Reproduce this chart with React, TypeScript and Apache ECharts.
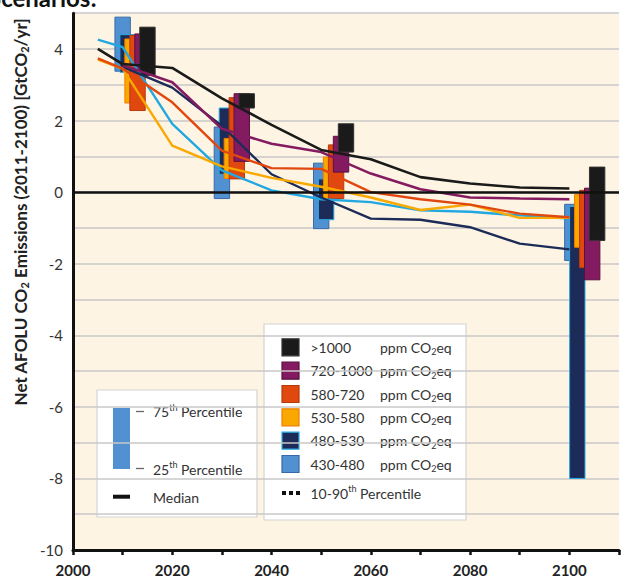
import React, { useEffect, useRef } from "react";
import * as echarts from "echarts";

// ---- data ----
const categories = ["430-480", "480-530", "530-580", "580-720", "720-1000", ">1000"];
const boxGroupYears = [2010, 2030, 2050, 2100.6];

// interquartile boxes [low, high] per group year
const box430 = [[3.38, 4.89], [-0.18, 1.82], [-1.02, 0.81], [-1.91, -0.34]];
const box480 = [[3.35, 4.4], [0.5, 2.35], [-0.77, 0.37], [-8.0, -0.4]];
const box530 = [[2.49, 4.28], [0.38, 1.5], [-0.18, 0.98], [-1.54, -0.07]];
const box580 = [[2.28, 4.38], [0.37, 2.64], [-0.18, 1.32], [-2.11, 0.05]];
const box720 = [[3.35, 4.42], [0.86, 2.75], [0.56, 1.56], [-2.45, 0.11]];
const box1000 = [[3.26, 4.61], [2.35, 2.75], [1.12, 1.91], [-1.35, 0.7]];

// median trajectories [year, value]
const line430 = [[2005, 4.26], [2010, 4.05], [2020, 1.91], [2030, 0.61], [2040, 0.05], [2050, -0.2], [2060, -0.28], [2070, -0.51], [2080, -0.55], [2090, -0.65], [2100, -0.74]];
const line480 = [[2010, 3.5], [2020, 2.92], [2030, 1.85], [2040, 0.5], [2050, -0.15], [2060, -0.74], [2070, -0.77], [2080, -0.98], [2090, -1.44], [2100, -1.6]];
const line530 = [[2005, 3.7], [2010, 3.45], [2020, 1.3], [2030, 0.72], [2040, 0.4], [2050, 0.15], [2060, -0.15], [2070, -0.5], [2080, -0.35], [2090, -0.72], [2100, -0.72]];
const line580 = [[2005, 3.74], [2010, 3.45], [2020, 2.51], [2030, 1.16], [2040, 0.67], [2050, 0.65], [2060, 0.0], [2070, -0.2], [2080, -0.35], [2090, -0.6], [2100, -0.7]];
const line720 = [[2010, 3.55], [2020, 3.07], [2030, 1.77], [2040, 1.35], [2050, 1.12], [2060, 0.52], [2070, 0.08], [2080, -0.15], [2090, -0.18], [2100, -0.2]];
const line1000 = [[2005, 4.0], [2010, 3.58], [2020, 3.47], [2030, 2.62], [2040, 1.88], [2050, 1.18], [2060, 0.92], [2070, 0.42], [2080, 0.24], [2090, 0.13], [2100, 0.1]];

const xTickLabels = [2000, 2020, 2040, 2060, 2080, 2100];
const yTickLabels = [4, 2, 0, -2, -4, -6, -8, -10];

// ---- styles ----
const FONT = "Lato";
const boxFill = ["#5191d1", "#1c2b57", "#f9a800", "#e0480f", "#841b60", "#1a1a1a"];
const boxStroke = ["#3a6aa6", "#2aaae2", "#f07f00", "#b83a0a", "#5a0f40", "#333333"];
const lineColor = ["#22a8e0", "#1c2b57", "#f9a800", "#e0480f", "#841b60", "#1a1a1a"];
const lineWidth = [2.4, 2.4, 2.4, 2.4, 2.5, 2.6];
const boxes = [box430, box480, box530, box580, box720, box1000];
const lines = [line430, line480, line530, line580, line720, line1000];
const BOX_W = 3.1;

export default function App() {
  const ref = useRef<HTMLDivElement>(null);
  useEffect(() => {
    if (!ref.current) return;
    const chart = echarts.init(ref.current, null, { renderer: "svg" });

    const boxSeries = categories.map((c, i) => ({
      type: "custom",
      name: c + " box",
      z: 2,
      data: boxes[i].map((b, g) => [boxGroupYears[g] + i, b[0], b[1]]),
      encode: { x: 0, y: [1, 2] },
      renderItem: (params: any, api: any) => {
        const x = api.value(0);
        const lo = api.value(1);
        const hi = api.value(2);
        const p1 = api.coord([x, hi]);
        const p2 = api.coord([x, lo]);
        const w = api.size([BOX_W, 0])[0];
        return {
          type: "rect",
          shape: { x: p1[0] - w / 2, y: p1[1], width: w, height: p2[1] - p1[1] },
          style: { fill: boxFill[i], stroke: boxStroke[i], lineWidth: 1 },
        };
      },
    }));

    const lineSeries = categories.map((c, i) => ({
      type: "line",
      name: c,
      z: 4,
      data: lines[i],
      symbol: "none",
      lineStyle: { color: lineColor[i], width: lineWidth[i] },
    }));

    const zeroSeries = {
      type: "line",
      z: 3,
      data: [],
      markLine: {
        silent: true,
        symbol: "none",
        label: { show: false },
        lineStyle: { color: "#111", width: 2.6, type: "solid" },
        data: [{ yAxis: 0 }],
      },
    };

    const rich = {
      n: { fontFamily: FONT, fontSize: 14, lineHeight: 18, fill: "#333", color: "#333" },
      sub: { fontFamily: FONT, fontSize: 9, lineHeight: 9, verticalAlign: "bottom", fill: "#333", color: "#333" },
      sup: { fontFamily: FONT, fontSize: 9, lineHeight: 9, verticalAlign: "top", fill: "#333", color: "#333" },
    };
    const richBold = {
      n: { fontFamily: FONT, fontSize: 17, fontWeight: "bold", lineHeight: 20, fill: "#222" },
      sub: { fontFamily: FONT, fontSize: 11, fontWeight: "bold", lineHeight: 11, verticalAlign: "bottom", fill: "#222" },
    };

    const legendRows = [">1000", "720-1000", "580-720", "530-580", "480-530", "430-480"];
    const legendIdx = [5, 4, 3, 2, 1, 0];
    const rowY = [347.3, 370.7, 394, 417.3, 440.7, 464];

    const rightLegend: any[] = [
      { type: "rect", shape: { x: 264, y: 324, width: 202, height: 196 }, style: { fill: "#fff", stroke: "#d4d4d4", lineWidth: 1.2 } },
    ];
    legendRows.forEach((r, k) => {
      const i = legendIdx[k];
      rightLegend.push({ type: "rect", shape: { x: 282, y: rowY[k] - 8.5, width: 17, height: 17 }, style: { fill: boxFill[i], stroke: boxStroke[i], lineWidth: 1.2 } });
      rightLegend.push({ type: "text", x: 310.5, y: rowY[k], style: { text: "{n|" + r + "}", rich, verticalAlign: "middle", align: "left" } });
      rightLegend.push({ type: "text", x: 380, y: rowY[k], style: { text: "{n|ppm CO}{sub|2}{n|eq}", rich, verticalAlign: "middle", align: "left" } });
    });
    [282, 289, 296].forEach((dx) => {
      rightLegend.push({ type: "rect", shape: { x: dx, y: 491, width: 4, height: 4 }, style: { fill: "#111" } });
    });
    rightLegend.push({ type: "text", x: 310.5, y: 493, style: { text: "{n|10-90}{sup|th}{n| Percentile}", rich, verticalAlign: "middle", align: "left" } });

    const leftLegend: any[] = [
      { type: "rect", shape: { x: 97, y: 390, width: 160, height: 127 }, style: { fill: "#fff", stroke: "#d4d4d4", lineWidth: 1.2 } },
      { type: "rect", shape: { x: 113, y: 408, width: 17, height: 61 }, style: { fill: "#5191d1" } },
      { type: "line", shape: { x1: 136, y1: 411.5, x2: 144, y2: 411.5 }, style: { stroke: "#666", lineWidth: 1.3 } },
      { type: "line", shape: { x1: 136, y1: 468.5, x2: 144, y2: 468.5 }, style: { stroke: "#666", lineWidth: 1.3 } },
      { type: "text", x: 153, y: 411.5, style: { text: "{n|75}{sup|th}{n| Percentile}", rich, verticalAlign: "middle", align: "left" } },
      { type: "text", x: 153, y: 469, style: { text: "{n|25}{sup|th}{n| Percentile}", rich, verticalAlign: "middle", align: "left" } },
      { type: "line", shape: { x1: 113, y1: 496.7, x2: 130, y2: 496.7 }, style: { stroke: "#111", lineWidth: 4 } },
      { type: "text", x: 153, y: 497, style: { text: "{n|Median}", rich, verticalAlign: "middle", align: "left" } },
    ];

    const option: any = {
      animation: false,
      grid: {
        left: 73,
        top: 13.2,
        right: -6.5,
        bottom: 29,
        show: true,
        backgroundColor: "#fdf4e4",
        borderWidth: 0,
      },
      xAxis: {
        type: "value",
        min: 2000,
        max: 2110,
        interval: 10,
        axisLine: { show: true, onZero: false, lineStyle: { color: "#111", width: 3 } },
        axisTick: { show: true, length: 5, lineStyle: { color: "#111", width: 2.5 } },
        splitLine: { show: false },
        axisLabel: {
          margin: 12,
          fontFamily: FONT,
          fontSize: 15,
          fontWeight: "bold",
          color: "#222",
          formatter: (v: number) => (xTickLabels.includes(v) ? String(v) : ""),
        },
      },
      yAxis: {
        type: "value",
        min: -10,
        max: 5,
        interval: 1,
        axisLine: { show: true, lineStyle: { color: "#111", width: 3 } },
        axisTick: { show: false },
        splitLine: { show: true, lineStyle: { color: "#c9c9c9", width: 1.5 } },
        axisLabel: {
          margin: 10,
          fontFamily: FONT,
          fontSize: 15,
          color: "#333",
          formatter: (v: number) => (yTickLabels.includes(v) ? String(v) : ""),
        },
      },
      graphic: [
        {
          type: "text",
          x: -12,
          y: 9,
          style: { text: "Scenarios:", fontFamily: FONT, fontSize: 24, fontWeight: "bold", fill: "#111", align: "left", verticalAlign: "bottom" },
        },
        {
          type: "text",
          x: 20,
          y: 212,
          rotation: Math.PI / 2,
          style: {
            text: "{n|Net AFOLU CO}{sub|2}{n| Emissions (2011-2100) [GtCO}{sub|2}{n|/yr]}",
            rich: richBold,
            align: "center",
            verticalAlign: "middle",
          },
        },
        ...leftLegend,
        ...rightLegend,
      ],
      series: [...boxSeries, zeroSeries, ...lineSeries],
    };
    chart.setOption(option);
    return () => chart.dispose();
  }, []);
  return <div ref={ref} style={{ position: "absolute", left: 0, top: 0, width: 622, height: 579 }} />;
}
